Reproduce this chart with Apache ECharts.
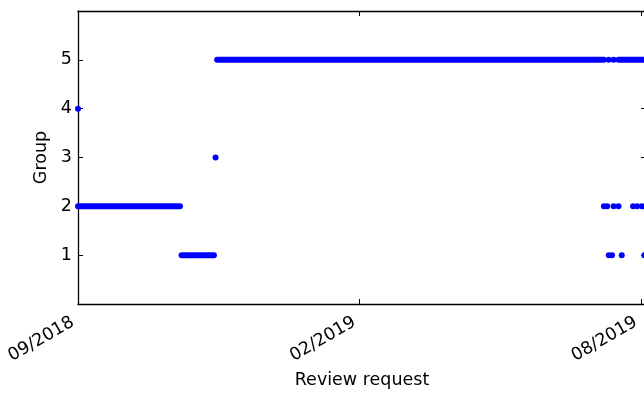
<!DOCTYPE html>
<html>
<head>
<meta charset="utf-8">
<style>
  html, body { margin: 0; padding: 0; background: #ffffff; }
  #chart { width: 644px; height: 393px; }
</style>
<script src="https://cdn.jsdelivr.net/npm/echarts@6/dist/echarts.min.js"></script>
</head>
<body>
<div id="chart"></div>
<script>
// x values are days counted from the first labelled tick
const tickLabels = ['09/2018', '02/2019', '08/2019'];
const tickStep = 174;
const xMax = 351;

// continuous stretches of review requests: [firstDay, lastDay]
const group1Runs = [[64, 84]];
const group2Runs = [[0, 63]];
const group5Runs = [[86, 325], [334, 351]];

// isolated review requests (day)
const group1Dots = [328, 330, 336, 350];
const group2Dots = [325, 327, 331, 334, 343, 345.5, 348.5, 350.5];
const group3Dots = [85];
const group4Dots = [0];
const group5Dots = [328, 331];

const BLUE = '#0000ff';
const FONT = 'DejaVu Sans';
const FS = 17.5;

const runSets = [[1, group1Runs], [2, group2Runs], [5, group5Runs]];
const dotSets = [[1, group1Dots], [2, group2Dots], [3, group3Dots], [4, group4Dots], [5, group5Dots]];

const series = [];
runSets.forEach(([g, runs]) => {
  runs.forEach(([a, b]) => {
    series.push({
      type: 'line',
      data: [[a, g], [b, g]],
      symbol: 'none',
      silent: true,
      animation: false,
      lineStyle: { color: BLUE, width: 6, cap: 'round', opacity: 1 }
    });
  });
});
series.push({
  type: 'scatter',
  data: dotSets.flatMap(([g, days]) => days.map(d => [d, g])),
  symbol: 'circle',
  symbolSize: 6,
  animation: false,
  itemStyle: { color: BLUE, opacity: 1 }
});

const lineStyle = { color: '#000000', width: 1.3 };
const tickStyle = { show: true, inside: true, length: 5, lineStyle: { color: '#000000', width: 1 } };

const chart = echarts.init(document.getElementById('chart'), null, { renderer: 'canvas' });
chart.setOption({
  backgroundColor: '#ffffff',
  animation: false,
  grid: { left: 78, top: 11, right: -2, bottom: 89, containLabel: false, outerBoundsMode: 'none' },
  xAxis: [{
    type: 'value', position: 'bottom',
    min: 0, max: xMax, interval: tickStep,
    axisLine: { show: true, onZero: false, lineStyle },
    axisTick: tickStyle,
    splitLine: { show: false },
    axisLabel: {
      rotate: 30, margin: 14, padding: [0, 6, 0, 0],
      fontFamily: FONT, fontSize: FS, color: '#000000',
      showMaxLabel: false, hideOverlap: false,
      formatter: v => (v % tickStep === 0 ? (tickLabels[v / tickStep] || '') : '')
    },
    name: 'Review request', nameLocation: 'middle', nameGap: 57,
    nameTextStyle: { fontFamily: FONT, fontSize: FS, color: '#000000' }
  }, {
    type: 'value', position: 'top',
    min: 0, max: xMax, interval: tickStep,
    axisLine: { show: true, onZero: false, lineStyle },
    axisTick: tickStyle,
    splitLine: { show: false },
    axisLabel: { show: false }
  }],
  yAxis: [{
    type: 'value', position: 'left',
    min: 0, max: 6, interval: 1,
    axisLine: { show: true, onZero: false, lineStyle },
    axisTick: tickStyle,
    splitLine: { show: false },
    axisLabel: {
      margin: 6, fontFamily: FONT, fontSize: FS, color: '#000000',
      formatter: v => (v >= 1 && v <= 5 ? String(v) : '')
    },
    name: 'Group', nameLocation: 'middle', nameGap: 28, nameRotate: 90,
    nameTextStyle: { fontFamily: FONT, fontSize: FS, color: '#000000' }
  }, {
    type: 'value', position: 'right',
    min: 0, max: 6, interval: 1,
    axisLine: { show: true, onZero: false, lineStyle },
    axisTick: tickStyle,
    splitLine: { show: false },
    axisLabel: { show: false }
  }],
  series
});
</script>
</body>
</html>
